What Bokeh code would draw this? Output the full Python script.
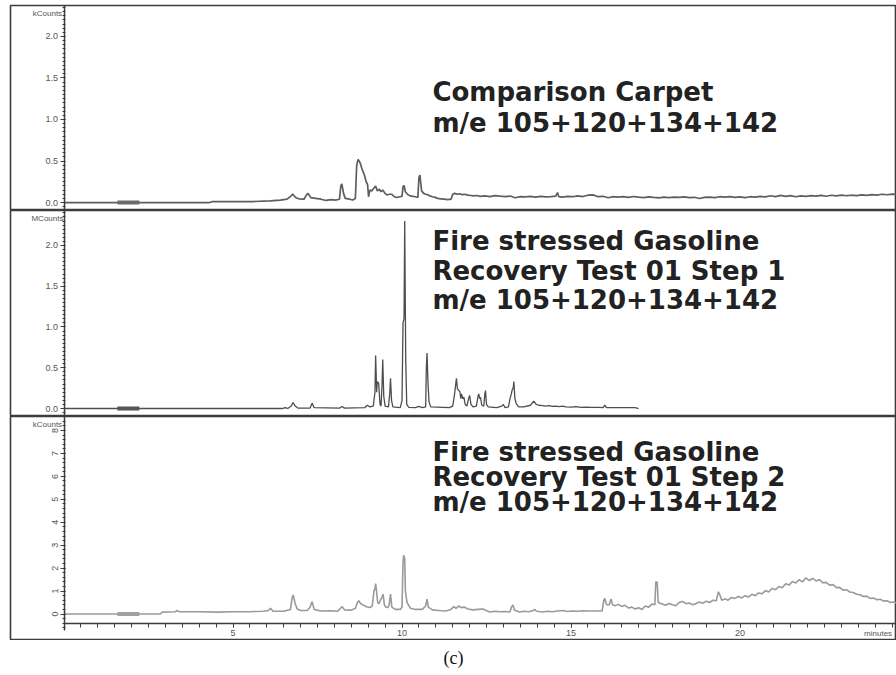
from bokeh.plotting import figure
from bokeh.models import LinearAxis, FixedTicker, Range1d, Label
from bokeh.layouts import column
from bokeh.embed import file_html
from bokeh.resources import INLINE

# ---------------- data (minutes, counts) ----------------
top_t = [0.0, 4.3, 4.4, 5.0, 5.6, 6.1, 6.4, 6.6, 6.72, 6.77, 6.85, 6.95, 7.1, 7.17, 7.22, 7.3,
         7.45, 7.6, 7.75, 7.9, 8.05, 8.15, 8.19, 8.22, 8.27, 8.32, 8.45, 8.55, 8.62, 8.66,
         8.7, 8.76, 8.82, 8.88, 8.94, 8.98, 9.01, 9.05, 9.1, 9.16, 9.22, 9.27, 9.33, 9.38,
         9.43, 9.5, 9.56, 9.62, 9.7, 9.77, 9.85, 9.93, 10.0, 10.03, 10.06, 10.1, 10.16,
         10.24, 10.32, 10.4, 10.47, 10.5, 10.53, 10.58, 10.64, 10.7, 10.76, 10.83, 10.9,
         10.97, 11.05, 11.15, 11.25, 11.35, 11.45, 11.5, 11.56, 11.63, 11.7, 11.78, 11.86,
         11.95, 12.04, 12.12, 12.2, 12.32,
         12.45, 12.6, 12.75, 12.9, 13.05, 13.2, 13.35, 13.5, 13.65, 13.8, 13.95, 14.1,
         14.25, 14.4, 14.55, 14.6, 14.64, 14.75, 14.9, 15.05, 15.2, 15.35, 15.5, 15.65,
         15.8, 15.95, 16.1, 16.25, 16.4, 16.55, 16.7, 16.85, 17.0, 17.15, 17.3, 17.45,
         17.6, 17.75, 17.9, 18.05, 18.2, 18.35, 18.5, 18.65, 18.8, 18.95, 19.1, 19.25,
         19.4, 19.55, 19.7, 19.85, 20.0, 20.15, 20.3, 20.45, 20.6, 20.75, 20.9, 21.05,
         21.2, 21.35, 21.5, 21.65, 21.8, 21.95, 22.1, 22.25, 22.4, 22.55, 22.7, 22.85,
         23.0, 23.15, 23.3, 23.45, 23.6, 23.75, 23.9, 24.05, 24.2, 24.35, 24.5, 24.65]
top_v = [0.0, 0.0, 0.01, 0.01, 0.012, 0.02, 0.03, 0.04, 0.08, 0.10, 0.06, 0.045, 0.04, 0.09, 0.11, 0.06,
         0.05, 0.04, 0.025, 0.035, 0.03, 0.04, 0.20, 0.225, 0.11, 0.05, 0.04, 0.03, 0.05, 0.45,
         0.52, 0.48, 0.40, 0.34, 0.25, 0.22, 0.07, 0.15, 0.14, 0.17, 0.20, 0.14, 0.16, 0.13,
         0.15, 0.11, 0.09, 0.10, 0.10, 0.07, 0.06, 0.07, 0.075, 0.19, 0.205, 0.13, 0.10,
         0.08, 0.075, 0.07, 0.06, 0.30, 0.33, 0.14, 0.11, 0.10, 0.095, 0.08, 0.07,
         0.065, 0.05, 0.045, 0.04, 0.035, 0.04, 0.10, 0.11, 0.10, 0.105, 0.095, 0.10,
         0.09, 0.085, 0.08, 0.085, 0.075,
         0.080, 0.072, 0.083, 0.076, 0.070, 0.078, 0.058, 0.072, 0.068, 0.074, 0.066, 0.073,
         0.069, 0.071, 0.078, 0.120, 0.070, 0.065, 0.074, 0.070, 0.080, 0.072, 0.088, 0.092,
         0.070, 0.075, 0.058, 0.072, 0.064, 0.070, 0.062, 0.073, 0.065, 0.060, 0.068, 0.062,
         0.057, 0.066, 0.060, 0.064, 0.061, 0.068, 0.058, 0.063, 0.048, 0.062, 0.066, 0.060,
         0.070, 0.064, 0.072, 0.062, 0.068, 0.060, 0.070, 0.066, 0.074, 0.068, 0.082, 0.072,
         0.086, 0.075, 0.084, 0.070, 0.080, 0.074, 0.083, 0.078, 0.086, 0.076, 0.088, 0.080,
         0.090, 0.082, 0.088, 0.084, 0.092, 0.086, 0.096, 0.090, 0.100, 0.094, 0.102, 0.098]

mid_t = [0.0, 6.45, 6.55, 6.62, 6.72, 6.78, 6.84, 6.92, 7.28, 7.34, 7.4, 8.15, 8.23, 8.3, 8.9,
         8.97, 9.05, 9.15, 9.2, 9.22, 9.25, 9.27, 9.31, 9.35, 9.38, 9.41, 9.43, 9.46, 9.5,
         9.6, 9.64, 9.66, 9.69, 9.73, 9.95, 10.0, 10.03, 10.06, 10.08, 10.11, 10.14, 10.2,
         10.4, 10.5, 10.6, 10.7, 10.72, 10.74, 10.77, 10.8, 10.85, 11.4, 11.5, 11.55, 11.59,
         11.61, 11.64, 11.68, 11.71, 11.74, 11.76, 11.8, 11.83, 11.87, 11.92, 11.97, 12.0,
         12.04, 12.1, 12.2, 12.25, 12.27, 12.3, 12.32, 12.36, 12.42, 12.45, 12.47, 12.5,
         12.55, 12.8, 12.95, 13.0, 13.05, 13.15, 13.2, 13.23, 13.26, 13.29, 13.31, 13.34,
         13.38, 13.45, 13.6, 13.8, 13.9, 13.97, 14.05, 14.15, 14.25, 14.35, 14.45, 14.55,
         14.65, 14.75, 14.85, 15.0, 15.15, 15.3, 15.45, 15.6, 15.8, 15.95, 16.0, 16.05,
         16.3, 16.6, 16.9, 17.0]
mid_v = [0.0, 0.0, 0.012, 0.0, 0.03, 0.074, 0.03, 0.005, 0.005, 0.066, 0.01, 0.005, 0.025, 0.005, 0.01,
         0.04, 0.02, 0.03, 0.20, 0.65, 0.20, 0.33, 0.31, 0.05, 0.03, 0.30, 0.60, 0.15, 0.03,
         0.02, 0.20, 0.37, 0.10, 0.02, 0.01, 0.10, 1.05, 1.10, 2.30, 0.60, 0.05, 0.015,
         0.01, 0.025, 0.01, 0.02, 0.50, 0.68, 0.30, 0.08, 0.02, 0.01, 0.03, 0.16, 0.30,
         0.37, 0.24, 0.22, 0.21, 0.12, 0.18, 0.12, 0.14, 0.05, 0.03, 0.12, 0.16,
         0.05, 0.02, 0.03, 0.15, 0.18, 0.12, 0.14, 0.04, 0.03, 0.18, 0.22, 0.05,
         0.02, 0.01, 0.03, 0.05, 0.01, 0.02, 0.13, 0.17, 0.23, 0.25, 0.33, 0.12,
         0.06, 0.02, 0.02, 0.04, 0.09, 0.05, 0.04, 0.035, 0.03, 0.035, 0.025, 0.03,
         0.022, 0.028, 0.02, 0.018, 0.022, 0.015, 0.018, 0.013, 0.015, 0.012, 0.04, 0.012,
         0.012, 0.01, 0.01, 0.0]

bot_t = [0.0, 2.85, 2.9, 3.3, 3.35, 3.4, 4.0, 4.5, 5.0, 5.5, 5.9, 6.05, 6.11, 6.18, 6.5, 6.7,
         6.75, 6.78, 6.84, 6.9, 7.0, 7.2, 7.28, 7.34, 7.4, 7.6, 7.9, 8.1, 8.18, 8.23, 8.3,
         8.5, 8.62, 8.68, 8.72, 8.78, 8.86, 8.95, 9.05, 9.12, 9.17, 9.2, 9.22, 9.25, 9.28,
         9.32, 9.36, 9.41, 9.44, 9.48, 9.52, 9.58, 9.62, 9.66, 9.7, 9.8, 9.95, 10.0, 10.03,
         10.05, 10.08, 10.1, 10.15, 10.25, 10.4, 10.6, 10.7, 10.74, 10.78, 10.9, 11.1, 11.3,
         11.45, 11.53, 11.6, 11.68, 11.75, 11.85, 11.95, 12.1, 12.25,
         12.4, 12.5, 12.6, 12.75, 12.9, 13.05, 13.19, 13.24, 13.28, 13.33, 13.48, 13.6,
         13.75, 13.88, 13.93, 13.98, 14.17, 14.3, 14.45, 14.6, 14.76, 14.9, 15.05, 15.2,
         15.35, 15.5, 15.65, 15.8, 15.92, 15.97, 16.0, 16.04, 16.08, 16.14, 16.17, 16.19,
         16.23, 16.3, 16.4, 16.5, 16.6, 16.7, 16.8, 16.9, 17.0, 17.1, 17.2, 17.3, 17.4,
         17.48, 17.51, 17.55, 17.58, 17.7, 17.8, 17.9, 18.0, 18.1, 18.2, 18.3, 18.4, 18.5,
         18.6, 18.7, 18.8, 18.9, 19.0, 19.1, 19.2, 19.3, 19.36, 19.4, 19.46, 19.55, 19.65,
         19.75, 19.85, 19.95, 20.05, 20.15, 20.25, 20.35, 20.45, 20.55, 20.65, 20.75, 20.85,
         20.95, 21.05, 21.15, 21.25, 21.35, 21.45, 21.55, 21.65, 21.75, 21.85, 21.95, 22.05,
         22.15, 22.25, 22.35, 22.45, 22.55, 22.65, 22.75, 22.85, 22.95, 23.05, 23.15, 23.25,
         23.35, 23.45, 23.55, 23.65, 23.75, 23.85, 23.95, 24.05, 24.15, 24.25, 24.35, 24.45,
         24.55, 24.65]
bot_v = [0.0, 0.0, 0.08, 0.10, 0.16, 0.10, 0.10, 0.08, 0.10, 0.10, 0.12, 0.15, 0.25, 0.12, 0.12, 0.20,
         0.70, 0.83, 0.45, 0.22, 0.15, 0.15, 0.30, 0.54, 0.20, 0.13, 0.14, 0.12, 0.25, 0.32, 0.18,
         0.17, 0.25, 0.50, 0.58, 0.45, 0.38, 0.32, 0.28, 0.35, 1.00, 1.12, 1.33, 0.95, 0.50,
         0.45, 0.60, 0.75, 0.87, 0.40, 0.30, 0.28, 0.40, 0.87, 0.30, 0.20, 0.20, 0.30, 2.20,
         2.56, 2.42, 1.00, 0.50, 0.25, 0.20, 0.20, 0.35, 0.65, 0.30, 0.18, 0.15, 0.13,
         0.20, 0.32, 0.25, 0.35, 0.28, 0.30, 0.22, 0.18, 0.20,
         0.22, 0.14, 0.09, 0.12, 0.10, 0.11, 0.09, 0.30, 0.39, 0.16, 0.09, 0.12,
         0.10, 0.15, 0.20, 0.12, 0.09, 0.12, 0.10, 0.13, 0.15, 0.11, 0.13, 0.12,
         0.14, 0.13, 0.13, 0.13, 0.13, 0.60, 0.68, 0.45, 0.39, 0.42, 0.60, 0.65,
         0.40, 0.36, 0.42, 0.33, 0.38, 0.26, 0.30, 0.22, 0.27, 0.20, 0.35, 0.30, 0.44,
         0.40, 1.41, 1.38, 0.50, 0.44, 0.38, 0.46, 0.40, 0.36, 0.50, 0.55, 0.45, 0.48,
         0.40, 0.46, 0.52, 0.47, 0.56, 0.50, 0.60, 0.58, 0.97, 0.85, 0.60, 0.66, 0.60,
         0.72, 0.68, 0.76, 0.70, 0.80, 0.74, 0.86, 0.80, 0.92, 0.88, 1.02, 0.96,
         1.12, 1.06, 1.20, 1.14, 1.32, 1.26, 1.42, 1.35, 1.50, 1.40, 1.58, 1.46,
         1.55, 1.44, 1.50, 1.36, 1.38, 1.26, 1.28, 1.15, 1.16, 1.04, 1.06, 0.96,
         0.94, 0.86, 0.84, 0.76, 0.78, 0.68, 0.70, 0.62, 0.64, 0.56, 0.58, 0.50,
         0.52, 0.47]

delay_t = [1.58, 2.23]          # solvent-delay bar (minutes)
delay_v = [0.0, 0.0]

top_ticks = [0.0, 0.5, 1.0, 1.5, 2.0]
top_tick_labels = ["0.0", "0.5", "1.0", "1.5", "2.0"]
mid_ticks = [0.0, 0.5, 1.0, 1.5, 2.0]
mid_tick_labels = ["0.0", "0.5", "1.0", "1.5", "2.0"]
bot_ticks = [0, 1, 2, 3, 4, 5, 6, 7, 8]
bot_tick_labels = ["0", "1", "2", "3", "4", "5", "6", "7", "8"]
x_ticks = [5, 10, 15, 20]
x_tick_labels = ["5", "10", "15", "20"]

top_title = ["Comparison Carpet", "m/e 105+120+134+142"]
mid_title = ["Fire stressed  Gasoline", "Recovery Test 01 Step 1", "m/e 105+120+134+142"]
bot_title = ["Fire stressed  Gasoline", "Recovery Test 01 Step 2", "m/e 105+120+134+142"]

# ---------------- layout ----------------
W = 896
X0, X1 = -1.583, 24.63
AXC = "#3c3c3c"
LBLC = "#555555"
TXTC = "#222222"


def panel(h, top_border, y0, y1):
    p = figure(width=W, height=h, x_range=Range1d(X0, X1), y_range=Range1d(y0, y1),
               x_axis_type=None, y_axis_type=None, toolbar_location=None,
               output_backend="svg", min_border_left=10, min_border_right=0,
               min_border_top=top_border, min_border_bottom=0)
    p.outline_line_color = AXC
    p.outline_line_width = 1.6
    p.background_fill_color = "white"
    p.border_fill_color = "white"
    return p


def yaxis(p, ticks, labels, minor, lo, hi, vertical=False):
    ax = LinearAxis(fixed_location=0, bounds=(lo, hi),
                    ticker=FixedTicker(ticks=ticks, minor_ticks=minor),
                    major_label_overrides={t: l for t, l in zip(ticks, labels)})
    ax.axis_line_color = AXC
    ax.axis_line_width = 1.5
    ax.major_tick_line_color = AXC
    ax.minor_tick_line_color = AXC
    ax.major_tick_out = 4
    ax.major_tick_in = 1
    ax.minor_tick_out = 2
    ax.minor_tick_in = 1
    ax.major_label_text_font = "Liberation Sans"
    ax.major_label_text_font_size = "9px"
    ax.major_label_text_color = LBLC
    ax.major_label_standoff = 2
    if vertical:
        ax.major_label_orientation = "vertical"
    p.add_layout(ax, "left")


def unit_label(p, y, text):
    p.add_layout(Label(x=-0.49, y=y, text=text, text_align="center", text_baseline="middle",
                       text_font="Liberation Sans", text_font_size="8px", text_color=LBLC))


def titles(p, lines, ys):
    for s, y in zip(lines, ys):
        p.add_layout(Label(x=10.9, y=y, text=s, text_align="left", text_baseline="middle",
                           text_font="DejaVu Sans", text_font_style="bold",
                           text_font_size="26px", text_color=TXTC))


# top panel (kCounts)
p1 = panel(210, 5, -0.096, 2.373)
yaxis(p1, top_ticks, top_tick_labels, [round(i * 0.05, 3) for i in range(-1, 48)], -0.096, 2.373)
p1.line(top_t, top_v, line_color="#5e5e5e", line_width=1.7)
p1.line(delay_t, delay_v, line_color="#6a6a6a", line_width=4)
unit_label(p1, 2.277, "kCounts")
titles(p1, top_title, [1.33, 0.955])

# middle panel (MCounts)
p2 = panel(206, 0, -0.098, 2.429)
yaxis(p2, mid_ticks, mid_tick_labels, [round(i * 0.05, 3) for i in range(-1, 49)], -0.098, 2.429)
p2.line(mid_t, mid_v, line_color="#4e4e4e", line_width=1.3)
p2.line(delay_t, delay_v, line_color="#555555", line_width=4)
unit_label(p2, 2.331, "MCounts")
titles(p2, mid_title, [2.05, 1.685, 1.33])

# bottom panel (kCounts) with time axis
p3 = panel(224, 0, -1.155, 8.61)
yaxis(p3, bot_ticks, bot_tick_labels, [round(i * 0.2, 2) for i in range(-3, 44)], -0.72, 8.61,
      vertical=True)
xa = LinearAxis(fixed_location=-0.414, bounds=(0, 30),
                ticker=FixedTicker(ticks=x_ticks, minor_ticks=[i * 0.5 for i in range(0, 50)]),
                major_label_overrides={t: l for t, l in zip(x_ticks, x_tick_labels)})
xa.axis_line_color = AXC
xa.axis_line_width = 1.5
xa.major_tick_line_color = AXC
xa.minor_tick_line_color = AXC
xa.major_tick_out = 4
xa.major_tick_in = 0
xa.minor_tick_out = 4
xa.minor_tick_in = 0
xa.major_label_text_font = "Liberation Sans"
xa.major_label_text_font_size = "9px"
xa.major_label_text_color = LBLC
xa.major_label_standoff = 2
p3.add_layout(xa, "below")
p3.line(bot_t, bot_v, line_color="#9a9a9a", line_width=1.6)
p3.line(delay_t, delay_v, line_color="#a0a0a0", line_width=4)
unit_label(p3, 8.26, "kCounts")
titles(p3, bot_title, [7.05, 5.97, 4.9])
p3.add_layout(Label(x=24.5, y=-0.85, text="minutes", text_align="right", text_baseline="middle",
                    text_font="Liberation Sans", text_font_size="8px", text_color=LBLC))

# caption
cap = figure(width=W, height=35, x_range=Range1d(0, 1), y_range=Range1d(0, 1),
             x_axis_type=None, y_axis_type=None, toolbar_location=None,
             output_backend="svg", min_border=0)
cap.outline_line_color = None
cap.add_layout(Label(x=0.5, y=0.49, text="(c)", text_align="center", text_baseline="middle",
                     text_font="Liberation Serif", text_font_size="18px", text_color="#111111"))

layout = column(p1, p2, p3, cap, spacing=0)
open("out.html", "w").write(file_html(layout, INLINE))
